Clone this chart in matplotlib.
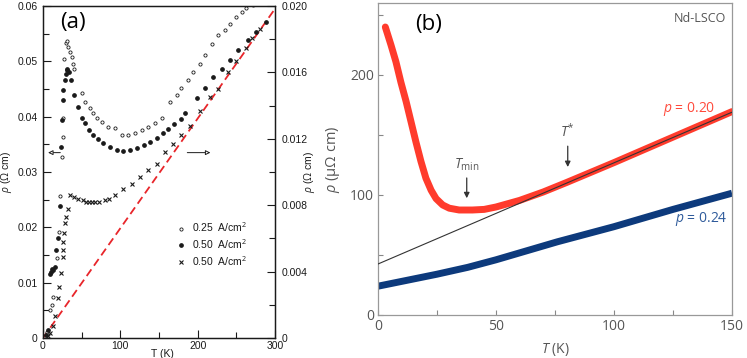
import numpy as np
import matplotlib
matplotlib.use("Agg")
from matplotlib import pyplot as plt
from matplotlib.ticker import FixedLocator, FuncFormatter
from matplotlib.lines import Line2D

plt.rcParams['mathtext.fontset'] = 'custom'
plt.rcParams['mathtext.rm'] = 'Open Sans'
plt.rcParams['mathtext.it'] = 'Open Sans:italic'

###########################################################
# panel (a) data
###########################################################
# 0.25 A/cm2, open circles (left axis)
T_open = [5, 9, 11, 12.5, 17.7, 21, 22, 24, 25.4, 25.6, 27, 29.7, 30.6, 32.7, 35, 37,
          39, 40, 50, 54, 61, 65, 69.4, 76, 84.4, 93, 102, 110, 119, 127.6, 136, 145,
          153.5, 164, 173, 179, 188, 194.4, 203, 209.5, 218, 226.7, 235, 242, 250,
          257, 263, 272]
rho_open = [0.001, 0.005, 0.006, 0.0075, 0.0144, 0.0192, 0.0256, 0.0328, 0.0364, 0.0397,
            0.0505, 0.0533, 0.0537, 0.0526, 0.0517, 0.0508, 0.0496, 0.0487, 0.0442,
            0.0427, 0.0415, 0.0406, 0.0397, 0.0391, 0.0382, 0.0379, 0.0367, 0.0367,
            0.037, 0.0376, 0.0382, 0.0388, 0.0397, 0.0427, 0.0439, 0.0451, 0.0466,
            0.0481, 0.0496, 0.0511, 0.0532, 0.0547, 0.0556, 0.0568, 0.058, 0.059,
            0.0596, 0.0602]

# 0.50 A/cm2, filled dots (left axis)
T_fill = [4, 7, 9, 10.5, 12, 13.5, 15, 17, 20, 22, 23.3, 24, 25.4, 26.3, 28.4, 29.5,
          30.6, 31.5, 33, 35.8, 40.5, 45.7, 50, 54.3, 60, 65, 70.7, 78, 86.6, 95.3,
          104, 112, 121, 130, 138, 147, 155.6, 162, 170, 178, 183.6, 198.7, 209, 220,
          231, 242, 252.5, 265.5, 276, 289]
rho_fill = [0.0005, 0.0015, 0.0115, 0.012, 0.0125, 0.0122, 0.0128, 0.0159, 0.018,
            0.0239, 0.0346, 0.0394, 0.043, 0.0448, 0.0466, 0.0478, 0.0484, 0.0487,
            0.048, 0.0467, 0.044, 0.0417, 0.0398, 0.0389, 0.0376, 0.0367, 0.0359,
            0.0352, 0.0345, 0.034, 0.0338, 0.034, 0.0343, 0.0349, 0.0355, 0.0361,
            0.037, 0.0377, 0.0386, 0.0396, 0.0406, 0.0433, 0.0451, 0.0472, 0.0487,
            0.0502, 0.052, 0.0538, 0.0553, 0.0571]

# 0.50 A/cm2, crosses (right axis)
T_cross = [6, 9, 13.4, 15.5, 20, 21, 23, 25.4, 26, 26.5, 27, 28.4, 29.7, 32.7, 35, 40,
           45, 52, 55, 60, 63, 67, 72, 80, 85, 93, 104, 115, 125.5, 136, 147, 158,
           168.5, 179, 190, 203, 216, 226.7, 239.6, 250, 263, 270, 280.6]
rho_cross = [0.0001, 0.0003, 0.0007, 0.0013, 0.0024, 0.0031, 0.0039, 0.0049, 0.0053,
             0.0058, 0.0063, 0.0069, 0.0073, 0.0078, 0.0086, 0.0085, 0.0084, 0.0083,
             0.0082, 0.0082, 0.0082, 0.0082, 0.0082, 0.0083, 0.0084, 0.0086, 0.009,
             0.0093, 0.0097, 0.0101, 0.0105, 0.0112, 0.0117, 0.0122, 0.0128, 0.0137,
             0.0145, 0.015, 0.016, 0.0167, 0.0175, 0.0181, 0.0186]

# red dashed guide line (left axis units)
T_dash = [0, 300]
rho_dash = [0, 0.0595]

###########################################################
# panel (b) data, Nd-LSCO
###########################################################
T_red = [3.1, 5.5, 7.6, 9.7, 11.9, 14, 16.1, 18.2, 20.3, 22.5, 24.6, 27.4, 30.2, 34.4,
         40, 45, 50, 60, 70, 80, 100, 120, 150]
rho_red = [240, 225, 211, 194, 178, 161, 144, 128, 114, 104, 97, 91.7, 89, 87.5, 87.5,
           88, 90, 95.5, 102.5, 110.5, 127, 144, 169.5]

T_blue = [0, 25, 38, 50, 76, 100, 125, 150]
rho_blue = [24, 34, 39.7, 46, 61, 73.6, 88, 101.5]

T_fit = [0, 150]
rho_fit = [42.5, 169]


fig = plt.figure(figsize=(7.47, 3.58), dpi=100)

# ---------------- panel (a) ----------------
axa = fig.add_axes([43/747, 20/358, 232/747, 332/358])
axr = axa.twinx()

afont = 'Liberation Sans'
ink = '#1a1a1a'

axa.plot(T_dash, rho_dash, color='#e8252a', lw=1.3, dashes=(4.5, 2.5), zorder=1)
axa.plot(T_open, rho_open, 'o', ms=2.3, mfc='white', mec=ink, mew=0.6, zorder=3)
axa.plot(T_fill, rho_fill, 'o', ms=2.4, color=ink, zorder=3)
axr.plot(T_cross, rho_cross, 'x', ms=2.8, color=ink, mew=0.8, zorder=3)

axa.set_xlim(0, 300)
axa.set_ylim(0, 0.06)
axr.set_ylim(0, 0.020)

axa.xaxis.set_major_locator(FixedLocator([0, 100, 200, 300]))
axa.xaxis.set_minor_locator(FixedLocator([50, 150, 250]))
axa.yaxis.set_major_locator(FixedLocator([0, 0.01, 0.02, 0.03, 0.04, 0.05, 0.06]))
axa.yaxis.set_minor_locator(FixedLocator([0.005, 0.015, 0.025, 0.035, 0.045, 0.055]))
axr.yaxis.set_major_locator(FixedLocator([0, 0.004, 0.008, 0.012, 0.016, 0.020]))
axr.yaxis.set_minor_locator(FixedLocator([0.002, 0.006, 0.010, 0.014, 0.018]))
axa.yaxis.set_major_formatter(FuncFormatter(lambda v, p: '0' if v == 0 else '%.2f' % v))
axr.yaxis.set_major_formatter(FuncFormatter(lambda v, p: '0' if v == 0 else '%.3f' % v))

for ax in (axa, axr):
  ax.tick_params(which='both', direction='in', color=ink, width=0.8, labelsize=7.5,
                 labelcolor=ink)
  ax.tick_params(which='major', length=6)
  ax.tick_params(which='minor', length=4)
  for s in ax.spines.values():
    s.set_color(ink)
    s.set_linewidth(0.9)
  for lab in ax.get_xticklabels() + ax.get_yticklabels():
    lab.set_family(afont)
axa.tick_params(axis='x', pad=2.5)
axa.tick_params(axis='y', pad=4)
axr.tick_params(axis='y', pad=5)

axa.set_xlabel('T (K)', family=afont, fontsize=7.5, color=ink)
axa.xaxis.set_label_coords((162 - 43) / 232, -0.033)
axa.set_ylabel(r'$\rho$ ($\Omega$ cm)', family=afont, fontsize=7.5, color=ink)
axa.yaxis.set_label_coords((14 - 43) / 232, 0.5)
axr.set_ylabel(r'$\rho$ ($\Omega$ cm)', family=afont, fontsize=7.5, color=ink,
               rotation=90)
axr.yaxis.set_label_coords((302 - 43) / 232, 0.5)

axa.text(0.072, 0.95, '(a)', transform=axa.transAxes, fontsize=16, family='Open Sans',
         va='center', ha='left', color='black')

# arrows pointing to the axis each set belongs to
axa.annotate('', xy=(3, 0.0335), xytext=(26, 0.0335),
             arrowprops=dict(arrowstyle='-|>', color=ink, lw=0.7, fc='white',
                             mutation_scale=7))
axa.annotate('', xy=(220, 0.0335), xytext=(183, 0.0335),
             arrowprops=dict(arrowstyle='-|>', color=ink, lw=0.7, fc='white',
                             mutation_scale=7))

handles = [
  Line2D([], [], ls='none', marker='o', ms=2.3, mfc='white', mec=ink, mew=0.6),
  Line2D([], [], ls='none', marker='o', ms=2.4, color=ink),
  Line2D([], [], ls='none', marker='x', ms=2.8, color=ink, mew=0.8),
]
leg = axa.legend(handles, ['0.25  A/cm$^2$', '0.50  A/cm$^2$', '0.50  A/cm$^2$'],
                 loc='upper left', bbox_to_anchor=(0.555, 0.37), frameon=False,
                 handlelength=0.8, handletextpad=0.6, labelspacing=0.3,
                 borderpad=0, prop={'family': afont, 'size': 7.5})
for t in leg.get_texts():
  t.set_color(ink)

# ---------------- panel (b) ----------------
axb = fig.add_axes([378/747, 43/358, 354/747, 312/358])

red = '#ff3b2c'
navy = '#0d3a7c'
grey = '#555555'

axb.plot(T_blue, rho_blue, color=navy, lw=5, solid_capstyle='butt', zorder=2)
axb.plot(T_red, rho_red, color=red, lw=5, solid_capstyle='round',
         solid_joinstyle='round', zorder=3)
axb.plot(T_fit, rho_fit, color='#333333', lw=0.8, zorder=4)

axb.set_xlim(0, 150)
axb.set_ylim(0, 260)
axb.xaxis.set_major_locator(FixedLocator([0, 50, 100, 150]))
axb.xaxis.set_minor_locator(FixedLocator([25, 75, 125]))
axb.yaxis.set_major_locator(FixedLocator([0, 100, 200]))
axb.yaxis.set_minor_locator(FixedLocator([50, 150, 250]))
axb.tick_params(which='both', direction='in', length=3.5, width=0.8, color='#888888',
                labelsize=10, labelcolor=grey, pad=3)
for lab in axb.get_xticklabels() + axb.get_yticklabels():
  lab.set_family('Open Sans')
for s in axb.spines.values():
  s.set_color('#999999')
  s.set_linewidth(0.9)

axb.set_xlabel('$T$ (K)', family='Open Sans', fontsize=10, color=grey)
axb.xaxis.set_label_coords(0.5, -0.083)
axb.set_ylabel(r'$\rho$ (μΩ cm)', family='Open Sans', fontsize=10.5, color=grey)
axb.yaxis.set_label_coords((342 - 378) / 354, 0.5)

axb.text(0.105, 0.93, '(b)', transform=axb.transAxes, fontsize=16, family='Open Sans',
         va='center', ha='left', color='black')
axb.text(0.983, 0.95, 'Nd-LSCO', transform=axb.transAxes, fontsize=9, family='Open Sans',
         va='center', ha='right', color=grey)
axb.text(143, 172, '$p$ = 0.20', fontsize=10, family='Open Sans', color='#ff4a3c',
         ha='right', va='center')
axb.text(148, 80, '$p$ = 0.24', fontsize=10, family='Open Sans', color='#2f5b9b',
         ha='right', va='center')

axb.annotate('', xy=(37.6, 95), xytext=(37.6, 116.5),
             arrowprops=dict(arrowstyle='-|>', color='#333333', lw=0.9,
                             mutation_scale=8))
axb.text(37.6, 118, r'$T_{\mathrm{min}}$', fontsize=10, family='Open Sans', color=grey,
         ha='center', va='bottom')
axb.annotate('', xy=(80.4, 121), xytext=(80.4, 143),
             arrowprops=dict(arrowstyle='-|>', color='#333333', lw=0.9,
                             mutation_scale=8))
axb.text(80.4, 145, r'$T^{*}$', fontsize=10, family='Open Sans', color=grey,
         ha='center', va='bottom')

fig.savefig('out.png', dpi=100)
